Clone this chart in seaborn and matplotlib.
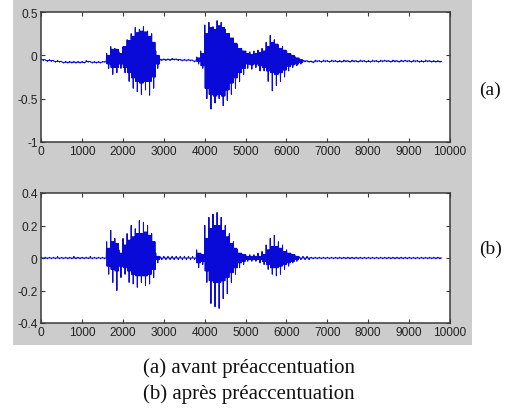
import numpy as np
import pandas as pd
import matplotlib
matplotlib.use("Agg")
import matplotlib.pyplot as plt
from matplotlib.patches import Rectangle
import seaborn as sns

# ---- data, per 100-sample bin ----
# upper/lower: extreme peaks (spikes); core_up/core_lo: dense body of the waveform
bin_size = 100
upper_a = [-0.04, -0.05, -0.05, -0.06, -0.06, -0.07, -0.07, -0.07, -0.07, -0.07,
           -0.07, -0.06, -0.07, -0.07, -0.07, -0.07, 0.02, 0.10, 0.08, 0.04,
           0.10, 0.18, 0.25, 0.32, 0.30, 0.33, 0.28, 0.25, 0.05, -0.04,
           -0.04, -0.04, -0.035, -0.04, -0.045, -0.045, -0.045, -0.055, -0.02, 0.05,
           0.35, 0.38, 0.33, 0.40, 0.38, 0.30, 0.25, 0.20, 0.12, 0.08,
           0.05, 0.04, 0.05, 0.06, 0.08, 0.15, 0.23, 0.18, 0.12, 0.10,
           0.05, 0.02, -0.01, -0.03, -0.055, -0.06, -0.065, -0.055, -0.06, -0.055,
           -0.06, -0.055, -0.06, -0.06, -0.055, -0.06, -0.055, -0.06, -0.055, -0.06,
           -0.06, -0.055, -0.06, -0.055, -0.055, -0.06, -0.055, -0.06, -0.055, -0.055,
           -0.06, -0.055, -0.06, -0.06, -0.055, -0.06, -0.06, -0.06]
core_up_a = [-0.05, -0.06, -0.06, -0.07, -0.07, -0.08, -0.08, -0.08, -0.08, -0.08,
             -0.08, -0.07, -0.08, -0.08, -0.08, -0.075, 0.00, 0.07, 0.07, 0.02,
             0.10, 0.17, 0.22, 0.26, 0.28, 0.27, 0.22, 0.15, 0.00, -0.05,
             -0.05, -0.05, -0.045, -0.05, -0.055, -0.055, -0.055, -0.065, -0.03, 0.02,
             0.25, 0.32, 0.30, 0.34, 0.32, 0.25, 0.20, 0.14, 0.08, 0.05,
             0.02, 0.01, 0.02, 0.03, 0.05, 0.10, 0.15, 0.13, 0.08, 0.06,
             0.02, 0.00, -0.03, -0.05, -0.065, -0.07, -0.075, -0.065, -0.07, -0.065,
             -0.07, -0.065, -0.07, -0.07, -0.065, -0.07, -0.065, -0.07, -0.065, -0.07,
             -0.07, -0.065, -0.07, -0.065, -0.065, -0.07, -0.065, -0.07, -0.065, -0.065,
             -0.07, -0.065, -0.07, -0.07, -0.065, -0.07, -0.07, -0.07]
core_lo_a = [-0.05, -0.06, -0.06, -0.07, -0.07, -0.08, -0.08, -0.08, -0.08, -0.08,
             -0.08, -0.07, -0.08, -0.08, -0.08, -0.075, -0.10, -0.14, -0.14, -0.10,
             -0.14, -0.20, -0.26, -0.30, -0.32, -0.30, -0.30, -0.25, -0.10, -0.05,
             -0.05, -0.05, -0.045, -0.05, -0.055, -0.055, -0.055, -0.065, -0.07, -0.12,
             -0.38, -0.45, -0.47, -0.45, -0.47, -0.40, -0.32, -0.26, -0.20, -0.15,
             -0.10, -0.11, -0.10, -0.12, -0.14, -0.18, -0.20, -0.22, -0.20, -0.17,
             -0.13, -0.11, -0.10, -0.08, -0.065, -0.07, -0.075, -0.065, -0.07, -0.065,
             -0.07, -0.065, -0.07, -0.07, -0.065, -0.07, -0.065, -0.07, -0.065, -0.07,
             -0.07, -0.065, -0.07, -0.065, -0.065, -0.07, -0.065, -0.07, -0.065, -0.065,
             -0.07, -0.065, -0.07, -0.07, -0.065, -0.07, -0.07, -0.07]
lower_a = [-0.06, -0.07, -0.07, -0.08, -0.08, -0.09, -0.09, -0.09, -0.09, -0.09,
           -0.09, -0.08, -0.09, -0.09, -0.09, -0.08, -0.15, -0.22, -0.20, -0.15,
           -0.20, -0.30, -0.38, -0.42, -0.45, -0.40, -0.46, -0.38, -0.15, -0.06,
           -0.06, -0.06, -0.055, -0.06, -0.065, -0.065, -0.065, -0.075, -0.10, -0.15,
           -0.50, -0.62, -0.55, -0.50, -0.58, -0.52, -0.45, -0.38, -0.30, -0.22,
           -0.15, -0.16, -0.14, -0.18, -0.18, -0.30, -0.41, -0.35, -0.30, -0.25,
           -0.18, -0.14, -0.12, -0.10, -0.075, -0.08, -0.085, -0.075, -0.08, -0.075,
           -0.08, -0.075, -0.08, -0.08, -0.075, -0.08, -0.075, -0.08, -0.075, -0.08,
           -0.08, -0.075, -0.08, -0.075, -0.075, -0.08, -0.075, -0.08, -0.075, -0.075,
           -0.08, -0.075, -0.08, -0.08, -0.075, -0.08, -0.08, -0.08]

upper_b = [0.005, 0.005, 0.005, 0.005, 0.01, 0.005, 0.005, 0.005, 0.01, 0.005,
           0.005, 0.005, 0.01, 0.005, 0.005, 0.005, 0.10, 0.17, 0.12, 0.05,
           0.12, 0.15, 0.20, 0.18, 0.23, 0.22, 0.20, 0.15, 0.03, 0.01,
           0.01, 0.01, 0.01, 0.01, 0.01, 0.01, 0.01, 0.01, 0.05, 0.03,
           0.20, 0.25, 0.27, 0.28, 0.25, 0.20, 0.15, 0.10, 0.05, 0.03,
           0.02, 0.02, 0.02, 0.03, 0.04, 0.08, 0.12, 0.14, 0.10, 0.08,
           0.05, 0.03, 0.02, 0.01, 0.01, 0.01, 0.005, 0.005, 0.005, 0.005,
           0.005, 0.005, 0.005, 0.005, 0.005, 0.005, 0.005, 0.005, 0.005, 0.005,
           0.005, 0.005, 0.005, 0.005, 0.005, 0.005, 0.005, 0.005, 0.005, 0.005,
           0.005, 0.005, 0.005, 0.005, 0.005, 0.005, 0.005, 0.005]
core_up_b = [0, 0, 0, 0, 0, 0, 0, 0, 0, 0,
             0, 0, 0, 0, 0, 0, 0.06, 0.10, 0.09, 0.03,
             0.08, 0.11, 0.13, 0.15, 0.15, 0.16, 0.14, 0.10, 0.01, 0,
             0, 0, 0, 0, 0, 0, 0, 0, 0.03, 0.02,
             0.12, 0.18, 0.20, 0.20, 0.17, 0.13, 0.09, 0.06, 0.03, 0.02,
             0.01, 0.01, 0.01, 0.01, 0.02, 0.05, 0.07, 0.07, 0.06, 0.04,
             0.03, 0.02, 0.01, 0, 0, 0, 0, 0, 0, 0,
             0, 0, 0, 0, 0, 0, 0, 0, 0, 0,
             0, 0, 0, 0, 0, 0, 0, 0, 0, 0,
             0, 0, 0, 0, 0, 0, 0, 0]
core_lo_b = [0, 0, 0, 0, 0, 0, 0, 0, 0, 0,
             0, 0, 0, 0, 0, 0, -0.05, -0.07, -0.08, -0.05,
             -0.06, -0.08, -0.10, -0.11, -0.11, -0.11, -0.10, -0.07, -0.01, 0,
             0, 0, 0, 0, 0, 0, 0, 0, -0.03, -0.02,
             -0.08, -0.14, -0.15, -0.15, -0.14, -0.12, -0.09, -0.06, -0.03, -0.02,
             -0.01, -0.01, -0.01, -0.01, -0.02, -0.04, -0.06, -0.06, -0.05, -0.04,
             -0.03, -0.02, -0.01, 0, 0, 0, 0, 0, 0, 0,
             0, 0, 0, 0, 0, 0, 0, 0, 0, 0,
             0, 0, 0, 0, 0, 0, 0, 0, 0, 0,
             0, 0, 0, 0, 0, 0, 0, 0]
lower_b = [-0.005, -0.005, -0.005, -0.005, -0.005, -0.005, -0.005, -0.005, -0.005, -0.005,
           -0.005, -0.005, -0.005, -0.005, -0.005, -0.005, -0.10, -0.15, -0.20, -0.12,
           -0.10, -0.15, -0.16, -0.18, -0.15, -0.17, -0.16, -0.12, -0.03, -0.01,
           -0.01, -0.01, -0.01, -0.01, -0.01, -0.01, -0.01, -0.01, -0.06, -0.04,
           -0.15, -0.28, -0.30, -0.31, -0.25, -0.22, -0.15, -0.10, -0.06, -0.04,
           -0.02, -0.02, -0.02, -0.03, -0.04, -0.07, -0.10, -0.11, -0.10, -0.07,
           -0.05, -0.03, -0.02, -0.01, -0.01, -0.01, -0.005, -0.005, -0.005, -0.005,
           -0.005, -0.005, -0.005, -0.005, -0.005, -0.005, -0.005, -0.005, -0.005, -0.005,
           -0.005, -0.005, -0.005, -0.005, -0.005, -0.005, -0.005, -0.005, -0.005, -0.005,
           -0.005, -0.005, -0.005, -0.005, -0.005, -0.005, -0.005, -0.005]

x_ticks = [0, 1000, 2000, 3000, 4000, 5000, 6000, 7000, 8000, 9000, 10000]
y_ticks_a = [0.5, 0, -0.5, -1]
y_ticks_b = [0.4, 0.2, 0, -0.2, -0.4]
panel_labels = ["(a)", "(b)"]
caption_lines = ["(a) avant préaccentuation", "(b) après préaccentuation"]


def waveform(upper, cu, cl, lower):
    """Trace each bin: spike up, dense core swings, spike down, dense core swings."""
    xs, ys = [], []
    for i in range(len(upper)):
        seq = [upper[i], cl[i], cu[i], cl[i], cu[i],
               lower[i], cu[i], cl[i], cu[i], cl[i]]
        for k, v in enumerate(seq):
            xs.append(i * bin_size + 5 + 10 * k)
            ys.append(v)
    return pd.DataFrame({"sample": xs, "amplitude": ys})


sns.set_style("ticks")
plt.rcParams["font.family"] = ["Liberation Sans", "DejaVu Sans"]

W, H = 515, 410
fig = plt.figure(figsize=(W / 100, H / 100), dpi=100)
fig.patch.set_facecolor("white")
fig.patches.append(Rectangle((13 / W, 1 - 346 / H), (472 - 13) / W, 346 / H,
                             transform=fig.transFigure, facecolor="#cccccc",
                             edgecolor="none", zorder=-10))

ax_a = fig.add_axes([41 / W, 1 - 143 / H, 409 / W, 130 / H])
ax_b = fig.add_axes([41 / W, 1 - 324 / H, 409 / W, 130 / H])

line_color = "#0a0ad8"
panels = [(ax_a, (upper_a, core_up_a, core_lo_a, lower_a), y_ticks_a, (-1, 0.5)),
          (ax_b, (upper_b, core_up_b, core_lo_b, lower_b), y_ticks_b, (-0.4, 0.4))]
for ax, series, yt, ylim in panels:
    df = waveform(*series)
    sns.lineplot(data=df, x="sample", y="amplitude", ax=ax, color=line_color,
                 linewidth=0.75, estimator=None, sort=False)
    ax.set_xlim(0, 10000)
    ax.set_ylim(*ylim)
    ax.set_xticks(x_ticks)
    ax.set_xticklabels([str(t) for t in x_ticks])
    ax.set_yticks(yt)
    ax.set_yticklabels([("%g" % t) for t in yt])
    ax.set_xlabel("")
    ax.set_ylabel("")
    ax.set_facecolor("white")
    for s in ax.spines.values():
        s.set_visible(True)
        s.set_color("#3a3a3a")
        s.set_linewidth(1.1)
    ax.tick_params(direction="in", length=3, width=0.8, color="#3a3a3a",
                   top=True, right=True, labelsize=8.6, labelcolor="#222222",
                   pad=2.5)

fig.text(490 / W, 1 - 90 / H, panel_labels[0], family="Liberation Serif",
         fontsize=14, ha="center", va="center", color="#111111")
fig.text(491 / W, 1 - 249 / H, panel_labels[1], family="Liberation Serif",
         fontsize=14, ha="center", va="center", color="#111111")
fig.text(249 / W, 1 - 368 / H, caption_lines[0], family="Liberation Serif",
         fontsize=15, ha="center", va="center", color="#111111")
fig.text(249 / W, 1 - 394 / H, caption_lines[1], family="Liberation Serif",
         fontsize=15, ha="center", va="center", color="#111111")

fig.savefig("out.png", dpi=100)
